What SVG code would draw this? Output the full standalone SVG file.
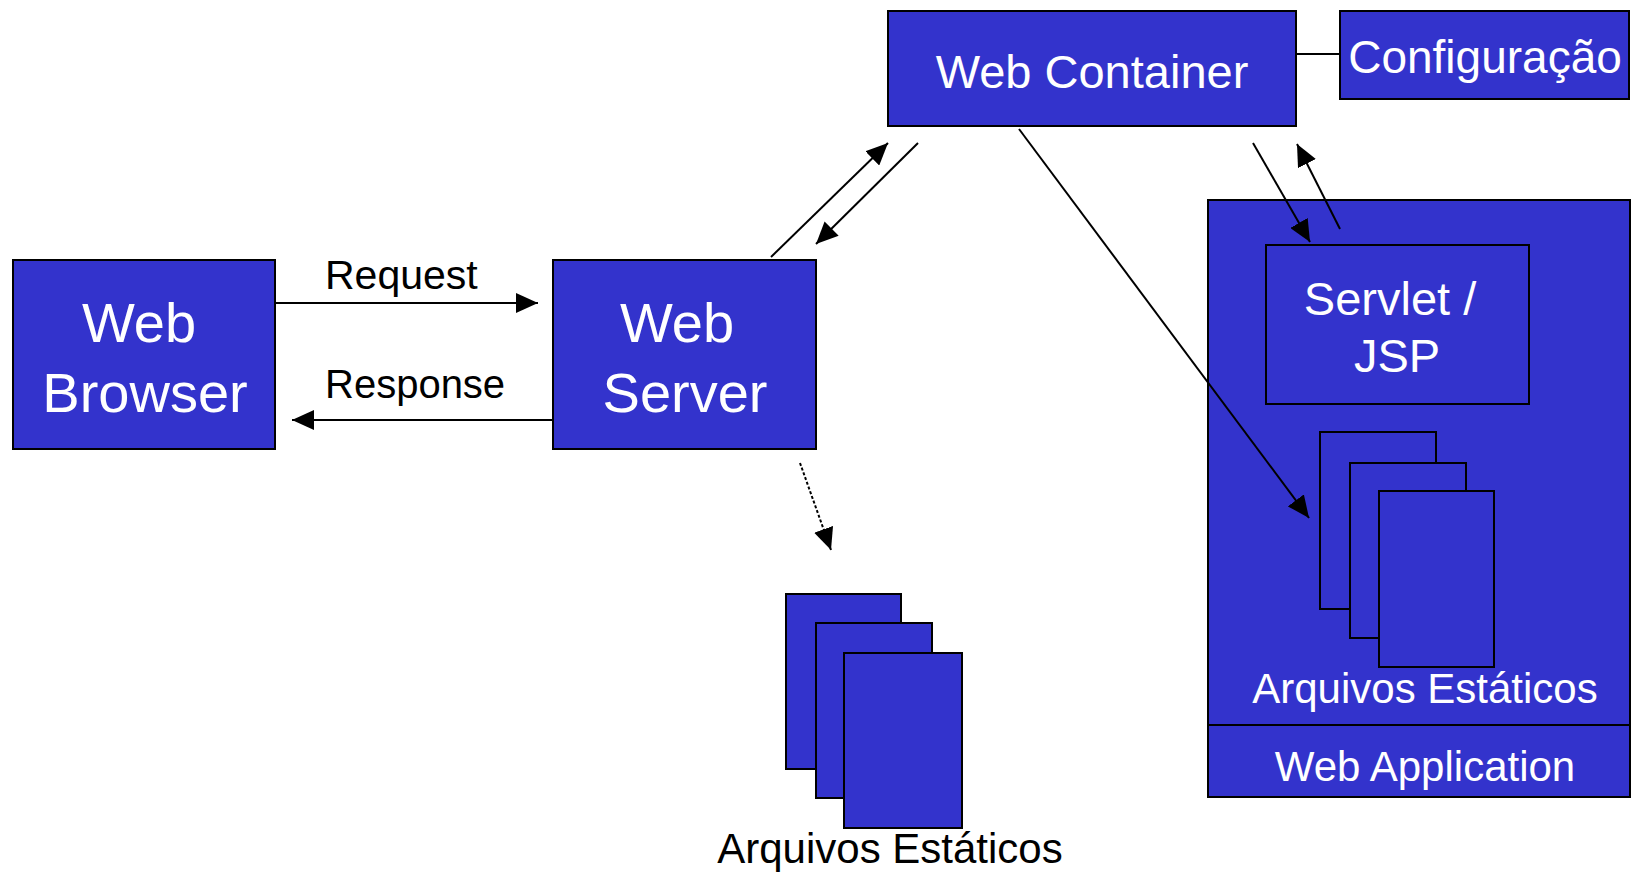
<svg xmlns="http://www.w3.org/2000/svg" width="1634" height="874" viewBox="0 0 1634 874">
<style>
.box{fill:#3333CC;stroke:#000;stroke-width:2}
.wt{fill:#fff;font-family:"Liberation Sans",Arial,sans-serif;text-anchor:middle}
.bt{fill:#000;font-family:"Liberation Sans",Arial,sans-serif}
.ln{stroke:#000;stroke-width:2;fill:none}
</style>
<defs>
<marker id="ah" markerUnits="userSpaceOnUse" markerWidth="24" markerHeight="20" refX="22" refY="10" orient="auto">
<path d="M0,0 L22,10 L0,20 Z" fill="#000"/>
</marker>
</defs>
<rect width="1634" height="874" fill="#fff"/>
<g id="web-browser">
<rect class="box" x="13" y="260" width="262" height="189"/>
<text class="wt" x="139" y="342" font-size="56">Web</text>
<text class="wt" x="145" y="412" font-size="56">Browser</text>
</g>
<g id="web-server">
<rect class="box" x="553" y="260" width="263" height="189"/>
<text class="wt" x="677" y="342" font-size="56">Web</text>
<text class="wt" x="685" y="412" font-size="56">Server</text>
</g>
<g id="web-container">
<rect class="box" x="888" y="11" width="408" height="115"/>
<text class="wt" x="1092" y="88" font-size="47">Web Container</text>
</g>
<g id="configuracao">
<rect class="box" x="1340" y="11" width="289" height="88"/>
<text class="wt" x="1485" y="73" font-size="46">Configuração</text>
</g>
<g id="web-application">
<rect class="box" x="1208" y="200" width="422" height="597"/>
<line x1="1208" y1="725" x2="1630" y2="725" stroke="#000" stroke-width="2"/>
<text class="wt" x="1425" y="703" font-size="42">Arquivos Estáticos</text>
<text class="wt" x="1425" y="781" font-size="42">Web Application</text>
</g>
<g id="servlet-jsp">
<rect class="box" x="1266" y="245" width="263" height="159"/>
<text class="wt" x="1390" y="315" font-size="47">Servlet /</text>
<text class="wt" x="1397" y="372" font-size="47">JSP</text>
</g>
<g id="app-static-files">
<rect class="box" x="1320" y="432" width="116" height="177"/>
<rect class="box" x="1350" y="463" width="116" height="175"/>
<rect class="box" x="1379" y="491" width="115" height="176"/>
</g>
<g id="server-static-files">
<rect class="box" x="786" y="594" width="115" height="175"/>
<rect class="box" x="816" y="623" width="116" height="175"/>
<rect class="box" x="844" y="653" width="118" height="175"/>
<text class="bt" x="890" y="863" font-size="42" text-anchor="middle">Arquivos Estáticos</text>
</g>
<g id="connectors">
<line class="ln" x1="275" y1="303" x2="538" y2="303" marker-end="url(#ah)"/>
<text class="bt" x="325" y="289" font-size="41">Request</text>
<line class="ln" x1="553" y1="420" x2="292" y2="420" marker-end="url(#ah)"/>
<text class="bt" x="325" y="398" font-size="40">Response</text>
<line class="ln" x1="771" y1="257" x2="888" y2="143" marker-end="url(#ah)"/>
<line class="ln" x1="918" y1="143" x2="816" y2="244" marker-end="url(#ah)"/>
<line x1="1296" y1="54" x2="1340" y2="54" stroke="#000" stroke-width="2"/>
<line class="ln" x1="1253" y1="143" x2="1310" y2="242" marker-end="url(#ah)"/>
<line class="ln" x1="1340" y1="229" x2="1297" y2="144" marker-end="url(#ah)"/>
<line class="ln" x1="1019" y1="129" x2="1309" y2="518" marker-end="url(#ah)"/>
<line class="ln" x1="800" y1="463" x2="831" y2="550" stroke-width="3" stroke-dasharray="3 2" marker-end="url(#ah)"/>
</g>
</svg>
